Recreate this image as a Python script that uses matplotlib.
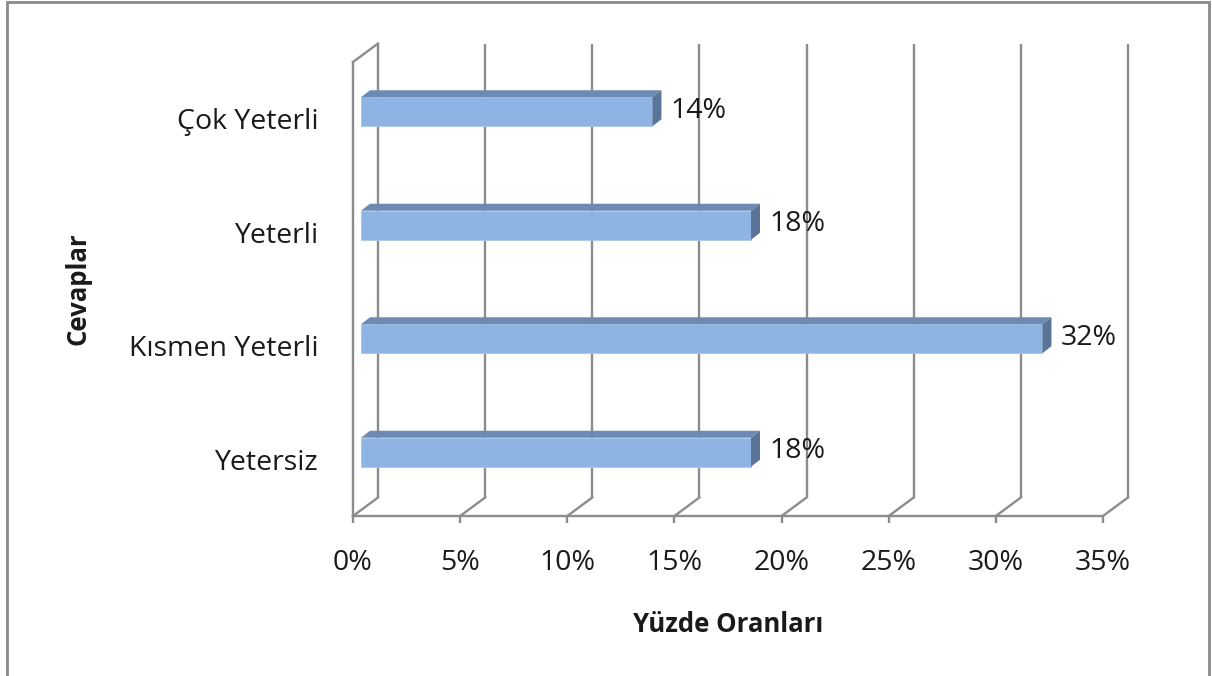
import matplotlib.pyplot as plt
from matplotlib.patches import Polygon, Rectangle

# data
categories = ['Yetersiz', 'Kısmen Yeterli', 'Yeterli', 'Çok Yeterli']
values = [18.2, 31.8, 18.2, 13.6]
xticks = [0, 5, 10, 15, 20, 25, 30, 35]

W, H = 1212, 676
plt.rc('font', family=['Open Sans', 'DejaVu Sans'])

fig = plt.figure(figsize=(W / 100, H / 100), dpi=100)
# front plane of the 3D box
ax = fig.add_axes([353 / W, (H - 516) / H, 750 / W, 454 / H])
ax.set_xlim(0, 35)
ax.set_ylim(-0.5, 3.5)
for s in ax.spines.values():
  s.set_visible(False)

# pixel -> data unit conversion
sx = 750 / 35.0
sy = 454 / 4.0
bx, by = 25 / sx, 18.5 / sy      # back wall depth
fx, fy = 8 / sx, 7 / sy          # bar front face depth
tx, ty = 9 / sx, 7 / sy          # bar thickness
grid = '#8c8c8c'
lw = 1.7
fs = 20.5
txt = '#1a1a1a'

y0, y1 = -0.5, 3.5
# back wall gridlines + floor diagonals
for t in xticks:
  ax.plot([t + bx, t + bx], [y0 + by, y1 + by], color=grid, lw=lw, clip_on=False, solid_capstyle='butt')
  ax.plot([t, t + bx], [y0, y0 + by], color=grid, lw=lw, clip_on=False)
# front floor edge
ax.plot([0, 35], [y0, y0], color=grid, lw=lw, clip_on=False)
# left wall
ax.plot([0, 0], [y0, y1], color=grid, lw=lw, clip_on=False)
ax.plot([0, bx], [y1, y1 + by], color=grid, lw=lw, clip_on=False)

# bars
h = 29 / sy
pos = list(range(len(categories)))
front = '#8eb4e3'
top = '#6d8ab3'
side = '#5a7598'
ax.barh([p + fy for p in pos], values, left=fx, height=h, color=front,
        edgecolor='#a9c6ea', linewidth=0.6, clip_on=False, zorder=3)
for p, v in zip(pos, values):
  yc = p + fy
  xe = v + fx
  ax.add_patch(Polygon([(fx, yc + h / 2), (xe, yc + h / 2), (xe + tx, yc + h / 2 + ty), (fx + tx, yc + h / 2 + ty)],
                       closed=True, facecolor=top, edgecolor='none', clip_on=False, zorder=3))
  ax.add_patch(Polygon([(xe, yc - h / 2), (xe, yc + h / 2), (xe + tx, yc + h / 2 + ty), (xe + tx, yc - h / 2 + ty)],
                       closed=True, facecolor=side, edgecolor='none', clip_on=False, zorder=3))
  ax.text(xe + tx + 9 / sx, yc + 1 / sy, '%d%%' % round(v), ha='left', va='center', fontsize=fs, color=txt)

ax.set_xticks(xticks)
ax.set_xticklabels(['%d%%' % t for t in xticks], fontsize=fs, color=txt)
ax.set_yticks(pos)
ax.set_yticklabels(categories, fontsize=fs, color=txt)
ax.tick_params(axis='x', length=5, width=lw, color=grid, pad=19)
ax.tick_params(axis='y', length=0, pad=25)

ax.set_xlabel('Yüzde Oranları', fontsize=18.5, fontweight='bold', labelpad=24, color=txt)
ax.set_ylabel('Cevaplar', fontsize=18.5, fontweight='bold', labelpad=27, color=txt)

# chart area border
fig.add_artist(Rectangle((6.5 / W, -0.1), 1202 / W, 1.1 - 2.5 / H, transform=fig.transFigure,
                         fill=False, edgecolor='#8a8a8a', lw=2))

fig.savefig('out.png', dpi=100)
